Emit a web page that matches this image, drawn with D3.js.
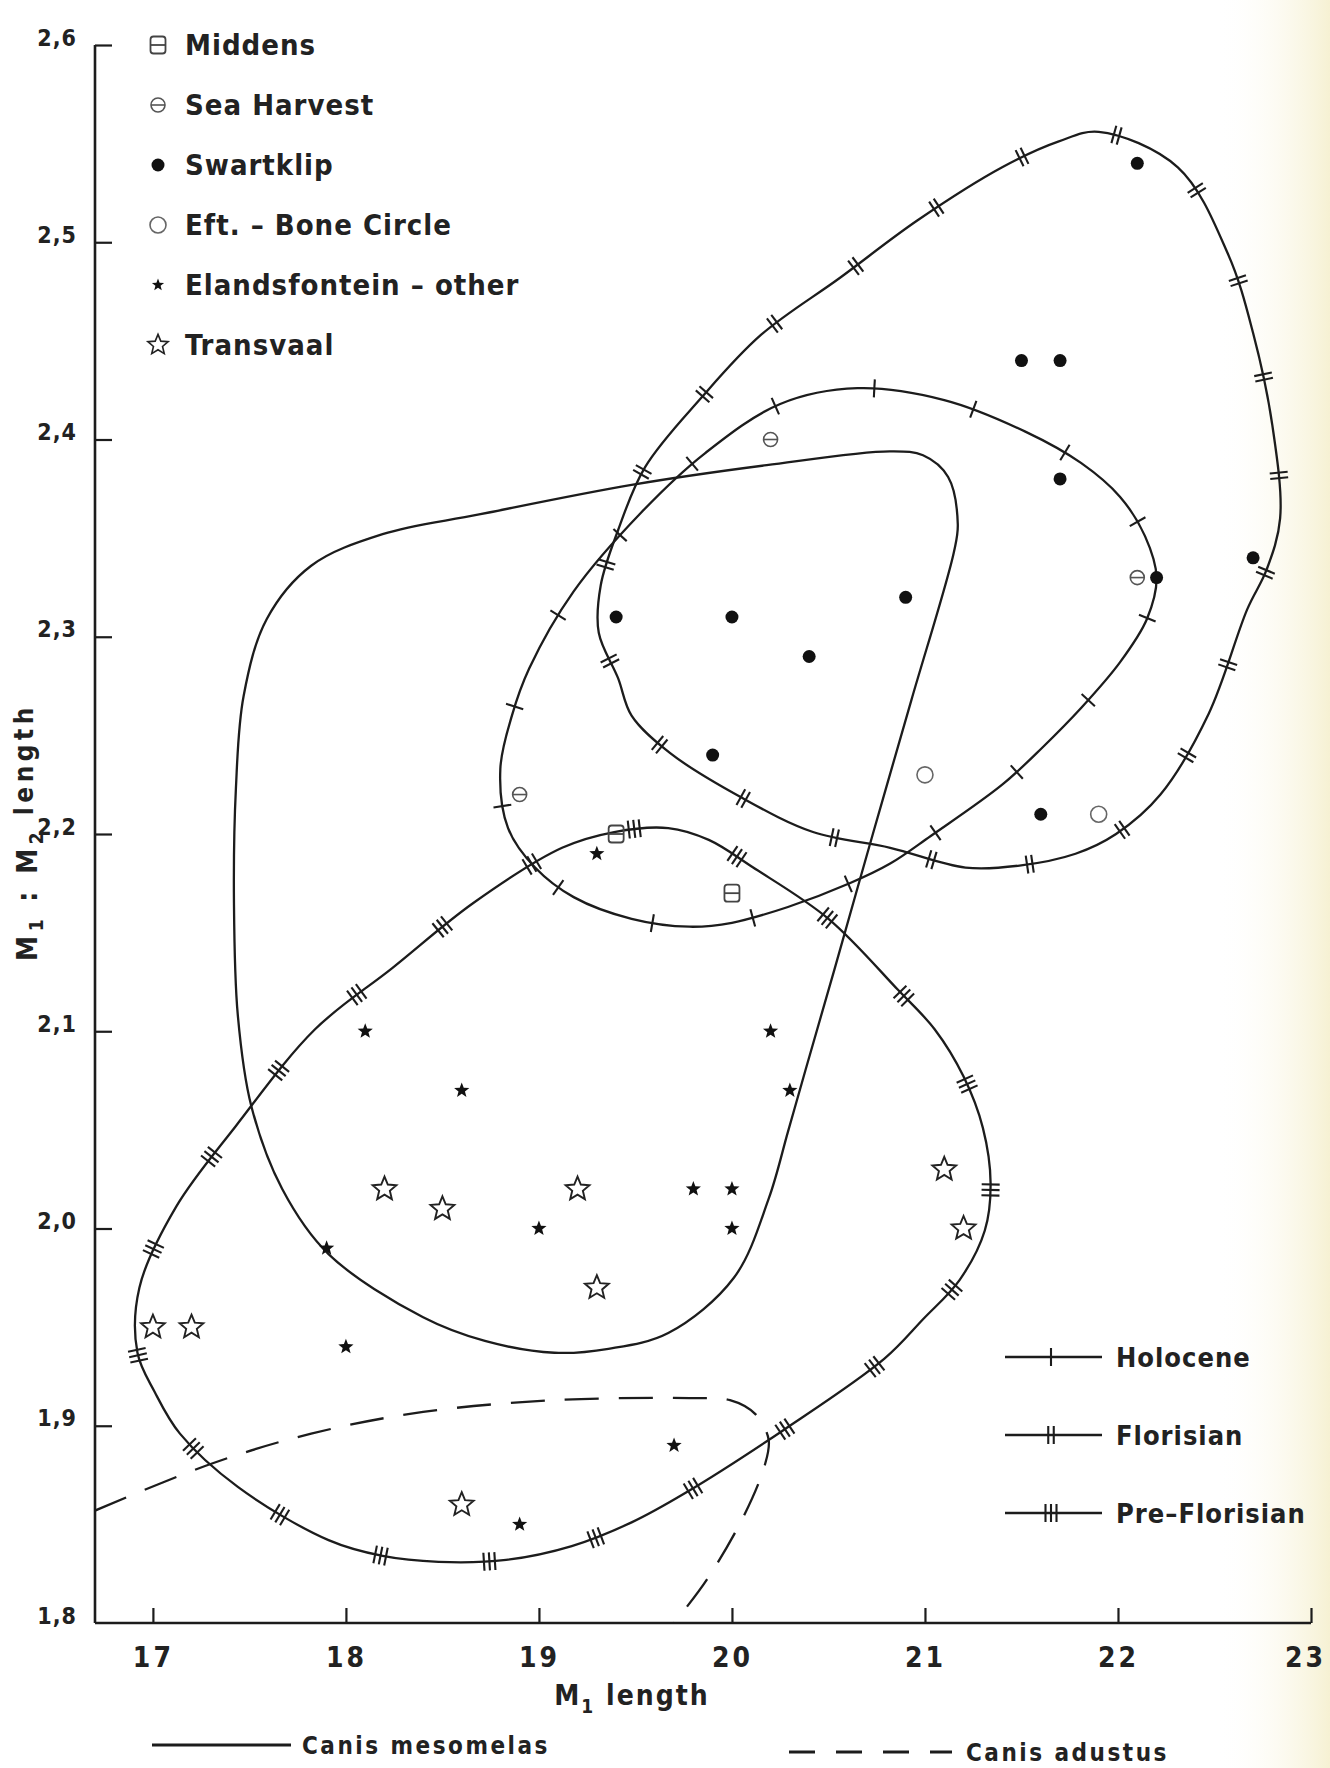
<!DOCTYPE html>
<html><head><meta charset="utf-8">
<script src="https://cdn.jsdelivr.net/npm/d3@7"></script>
<style>
html,body{margin:0;padding:0;background:#fff;}
svg{display:block;}
text{font-family:"DejaVu Sans Condensed","Liberation Sans Narrow","Arial Narrow",sans-serif;font-weight:bold;fill:#222;}
</style></head><body>
<svg id="chart" width="1330" height="1768"></svg>
<script>
// ---------- data ----------
const xTicks = [17,18,19,20,21,22,23];
const xTickLabels = ["17","18","19","20","21","22","23"];
const yTicks = [1.8,1.9,2.0,2.1,2.2,2.3,2.4,2.5,2.6];
const yTickLabels = ["1,8","1,9","2,0","2,1","2,2","2,3","2,4","2,5","2,6"];

const middens = [[19.4,2.20],[20.0,2.17]];
const seaHarvest = [[20.2,2.40],[18.9,2.22],[22.1,2.33]];
const swartklip = [[22.1,2.54],[21.5,2.44],[21.7,2.44],[21.7,2.38],[22.7,2.34],[22.2,2.33],
  [19.4,2.31],[20.0,2.31],[20.4,2.29],[20.9,2.32],[19.9,2.24],[21.6,2.21]];
const eftBoneCircle = [[21.0,2.23],[21.9,2.21]];
const elandsOther = [[19.3,2.19],[18.1,2.10],[18.6,2.07],[19.0,2.00],[19.8,2.02],[20.0,2.02],
  [20.0,2.00],[20.2,2.10],[20.3,2.07],[17.9,1.99],[18.0,1.94],[19.7,1.89],[18.9,1.85]];
const transvaal = [[18.2,2.02],[18.5,2.01],[19.2,2.02],[19.3,1.97],[21.1,2.03],[21.2,2.00],
  [17.0,1.95],[17.2,1.95],[18.6,1.86]];

// envelopes (M1 length, M1:M2)
const florisian = [[21.90,2.556],[22.31,2.538],[22.57,2.494],[22.70,2.454],[22.80,2.407],[22.84,2.360],
  [22.77,2.334],[22.67,2.314],[22.47,2.261],[22.22,2.220],[21.99,2.200],[21.78,2.190],[21.49,2.184],
  [21.21,2.183],[20.82,2.193],[20.42,2.201],[20.04,2.219],[19.68,2.241],[19.48,2.260],[19.41,2.279],
  [19.31,2.302],[19.32,2.326],[19.41,2.354],[19.55,2.386],[19.84,2.421],[20.15,2.453],[20.56,2.482],
  [20.96,2.511],[21.40,2.538],[21.69,2.551]];
const holocene = [[20.65,2.426],[21.10,2.420],[21.52,2.404],[21.81,2.388],[22.01,2.371],[22.14,2.351],
  [22.20,2.330],[22.15,2.309],[22.01,2.287],[21.81,2.264],[21.61,2.244],[21.40,2.225],[21.03,2.199],
  [20.82,2.185],[20.61,2.175],[20.29,2.163],[20.00,2.155],[19.78,2.153],[19.48,2.157],[19.18,2.168],
  [18.98,2.183],[18.84,2.203],[18.80,2.233],[18.86,2.260],[18.95,2.284],[19.18,2.323],[19.53,2.363],
  [19.86,2.393],[20.25,2.418]];
const preFlorisian = [[19.67,2.203],[19.88,2.197],[20.11,2.183],[20.50,2.157],[20.86,2.121],[21.05,2.101],
  [21.20,2.077],[21.30,2.051],[21.34,2.023],[21.31,1.999],[21.18,1.974],[20.99,1.954],[20.79,1.934],
  [20.27,1.898],[19.76,1.866],[19.48,1.851],[19.17,1.839],[18.83,1.832],[18.48,1.831],[18.19,1.834],
  [17.91,1.842],[17.44,1.869],[17.14,1.896],[17.01,1.917],[16.92,1.937],[16.93,1.970],[17.12,2.011],
  [17.43,2.052],[17.84,2.101],[18.24,2.132],[18.66,2.165],[19.12,2.193],[19.39,2.201]];
const mesomelas = [[18.69,2.362],[19.48,2.377],[20.18,2.387],[20.82,2.394],[20.99,2.392],[21.12,2.381],
  [21.17,2.357],[21.15,2.343],[20.93,2.268],[20.73,2.200],[20.53,2.131],[20.38,2.080],[20.29,2.049],
  [20.19,2.015],[20.01,1.975],[19.67,1.947],[19.36,1.939],[19.08,1.937],[18.72,1.943],[18.40,1.955],
  [17.91,1.987],[17.67,2.020],[17.51,2.062],[17.44,2.108],[17.42,2.165],[17.43,2.223],[17.47,2.270],
  [17.59,2.309],[17.82,2.336],[18.19,2.352]];
const adustus = [[16.70,1.857],[17.31,1.881],[17.82,1.896],[18.40,1.907],[19.09,1.913],[19.78,1.914],
  [19.99,1.913],[20.12,1.906],[20.19,1.893],[20.17,1.880],[20.06,1.854],[19.87,1.822],[19.70,1.800]];

const symbolLegend = ["Middens","Sea  Harvest","Swartklip","Eft. – Bone  Circle","Elandsfontein – other","Transvaal"];
const periodLegend = ["Holocene","Florisian","Pre–Florisian"];
const periodTicks = [1,2,3];
const speciesLegend = ["Canis  mesomelas","Canis  adustus"];

// ---------- drawing ----------
const svg = d3.select("#chart");
const W = 1330, H = 1768;
const INK = "#1c1c1c";

const defs = svg.append("defs");
const grad = defs.append("linearGradient").attr("id","paper").attr("x1","0").attr("x2","1").attr("y1","0").attr("y2","0");
grad.append("stop").attr("offset","0").attr("stop-color","#ffffff").attr("stop-opacity",0);
grad.append("stop").attr("offset","1").attr("stop-color","#f6f1d3").attr("stop-opacity",1);
svg.append("rect").attr("width",W).attr("height",H).attr("fill","#fff");
svg.append("rect").attr("x",1215).attr("y",0).attr("width",115).attr("height",H).attr("fill","url(#paper)");

const x = d3.scaleLinear().domain([16.7,23]).range([95,1311]);
const y = d3.scaleLinear().domain([1.8,2.6]).range([1623,45]);

defs.append("clipPath").attr("id","plot").append("rect")
  .attr("x",x(16.7)).attr("y",y(2.6)).attr("width",x(23)-x(16.7)).attr("height",y(1.8)-y(2.6));

// axes
const yAxis = d3.axisLeft(y).tickValues(yTicks).tickFormat((d,i)=>yTickLabels[i]).tickSize(-17).tickSizeOuter(0).tickPadding(18);
const gy = svg.append("g").attr("transform",`translate(${x(16.7)},0)`).call(yAxis);
gy.selectAll("text").attr("font-size",23).attr("dy","0.0em").style("letter-spacing","1px");
const xAxis = d3.axisBottom(x).tickValues(xTicks).tickFormat((d,i)=>xTickLabels[i]).tickSize(-15).tickSizeOuter(0).tickPadding(24);
const gx = svg.append("g").attr("transform",`translate(0,${y(1.8)})`).call(xAxis);
gx.selectAll("text").attr("font-size",28).style("letter-spacing","3px");
gx.selectAll(".tick").filter(d=>d===23).select("text").attr("x",-6);
[gx,gy].forEach(g=>{
  g.select(".domain").attr("stroke",INK).attr("stroke-width",2.6);
  g.selectAll(".tick line").attr("stroke",INK).attr("stroke-width",2.2);
  g.selectAll("text").attr("fill","#222").attr("font-family",null);
});
gy.selectAll(".tick").filter(d=>d===1.8).select("line").remove();
gy.select(".domain").attr("d",`M0,${y(2.6)}V${y(1.8)}`);
gx.select(".domain").attr("d",`M${x(16.7)},0H${x(23)}`);

// axis titles
const yt = svg.append("text").attr("transform",`translate(37,832) rotate(-90)`).attr("text-anchor","middle").attr("font-size",28).style("letter-spacing","4.5px");
yt.append("tspan").text("M");
yt.append("tspan").attr("font-size",19).attr("dy",6).text("1");
yt.append("tspan").attr("dy",-6).text(" : M");
yt.append("tspan").attr("font-size",19).attr("dy",6).text("2");
yt.append("tspan").attr("dy",-10).attr("font-size",26).text("  length");

const xt = svg.append("text").attr("x",632).attr("y",1705).attr("text-anchor","middle").attr("font-size",28).style("letter-spacing","2px");
xt.append("tspan").text("M");
xt.append("tspan").attr("font-size",19).attr("dy",8).text("1");
xt.append("tspan").attr("dy",-8).text("  length");

// envelopes
const closed = d3.line().x(d=>x(d[0])).y(d=>y(d[1])).curve(d3.curveCatmullRomClosed.alpha(0.5));
const open = d3.line().x(d=>x(d[0])).y(d=>y(d[1])).curve(d3.curveCatmullRom.alpha(0.5));
const plot = svg.append("g").attr("clip-path","url(#plot)");

function drawEnvelope(data, nTicks, mult){
  const p = plot.append("path").attr("d",closed(data)).attr("fill","none").attr("stroke",INK).attr("stroke-width",2.3);
  if(!nTicks) return;
  const node = p.node(), L = node.getTotalLength();
  for(let i=0;i<nTicks;i++){
    const s = (i+0.3)*L/nTicks;
    const a = node.getPointAtLength(s), b = node.getPointAtLength(Math.min(L,s+2));
    let tx=b.x-a.x, ty=b.y-a.y; const n=Math.hypot(tx,ty)||1; tx/=n; ty/=n;
    const nx=-ty, ny=tx;
    for(let j=0;j<mult;j++){
      const off=(j-(mult-1)/2)*5.5;
      const cx=a.x+tx*off, cy=a.y+ty*off;
      plot.append("line").attr("x1",cx-nx*9).attr("y1",cy-ny*9).attr("x2",cx+nx*9).attr("y2",cy+ny*9)
        .attr("stroke",INK).attr("stroke-width",2.1);
    }
  }
}
drawEnvelope(mesomelas,0,0);
drawEnvelope(florisian,22,2);
drawEnvelope(holocene,18,1);
drawEnvelope(preFlorisian,22,3);
plot.append("path").attr("d",open(adustus)).attr("fill","none").attr("stroke",INK).attr("stroke-width",2.3)
  .attr("stroke-dasharray","34 20");

// symbols
function starPath(R, r){
  let s="";
  for(let i=0;i<10;i++){
    const ang=-Math.PI/2+i*Math.PI/5, rr=i%2?r:R;
    s+=(i?"L":"M")+(rr*Math.cos(ang)).toFixed(2)+","+(rr*Math.sin(ang)).toFixed(2);
  }
  return s+"Z";
}
const drawers = {
  middens: g=>{ g.append("rect").attr("x",-7.5).attr("y",-8.5).attr("width",15).attr("height",17).attr("rx",3)
      .attr("fill","none").attr("stroke","#444").attr("stroke-width",1.8);
    g.append("line").attr("x1",-7.5).attr("x2",7.5).attr("y1",0).attr("y2",0).attr("stroke","#444").attr("stroke-width",1.8); },
  sea: g=>{ g.append("circle").attr("r",7).attr("fill","none").attr("stroke","#555").attr("stroke-width",1.6);
    g.append("line").attr("x1",-7).attr("x2",7).attr("stroke","#555").attr("stroke-width",1.6); },
  swart: g=>{ g.append("circle").attr("r",6.5).attr("fill","#111"); },
  eft: g=>{ g.append("circle").attr("r",8).attr("fill","none").attr("stroke","#666").attr("stroke-width",1.6); },
  elands: g=>{ g.append("path").attr("d",starPath(8,3.4)).attr("fill","#111"); },
  trans: g=>{ g.append("path").attr("d",starPath(12.5,5.6)).attr("fill","none").attr("stroke","#222").attr("stroke-width",1.9); }
};
function plotPoints(data, key){
  svg.append("g").selectAll("g").data(data).join("g")
    .attr("transform",d=>`translate(${x(d[0])},${y(d[1])})`)
    .each(function(){ drawers[key](d3.select(this)); });
}
plotPoints(middens,"middens");
plotPoints(seaHarvest,"sea");
plotPoints(swartklip,"swart");
plotPoints(eftBoneCircle,"eft");
plotPoints(elandsOther,"elands");
plotPoints(transvaal,"trans");

// symbol legend (top-left)
const legKeys = ["middens","sea","swart","eft","elands","trans"];
const lg = svg.append("g");
symbolLegend.forEach((t,i)=>{
  const yy = 45 + i*60;
  const g = lg.append("g").attr("transform",`translate(158,${yy})`);
  drawers[legKeys[i]](g);
  if(legKeys[i]==="trans") g.attr("transform",`translate(158,${yy}) scale(0.85)`);
  if(legKeys[i]==="elands") g.attr("transform",`translate(158,${yy}) scale(0.8)`);
  lg.append("text").attr("x",185).attr("y",yy).attr("dy","0.36em").attr("font-size",29).style("letter-spacing","1px").text(t);
});

// period legend (bottom-right)
const pg = svg.append("g");
periodLegend.forEach((t,i)=>{
  const yy = 1357 + i*78;
  pg.append("line").attr("x1",1005).attr("x2",1102).attr("y1",yy).attr("y2",yy).attr("stroke",INK).attr("stroke-width",2.3);
  const m = periodTicks[i];
  for(let j=0;j<m;j++){
    const cx = 1051 + (j-(m-1)/2)*5.5;
    pg.append("line").attr("x1",cx).attr("x2",cx).attr("y1",yy-9).attr("y2",yy+9).attr("stroke",INK).attr("stroke-width",2.1);
  }
  pg.append("text").attr("x",1116).attr("y",yy).attr("dy","0.36em").attr("font-size",27).style("letter-spacing","1px").text(t);
});

// species legend (bottom)
const sg = svg.append("g");
sg.append("line").attr("x1",152).attr("x2",291).attr("y1",1745).attr("y2",1745).attr("stroke",INK).attr("stroke-width",3);
sg.append("text").attr("x",302).attr("y",1745).attr("dy","0.36em").attr("font-size",24).style("letter-spacing","2.5px").text(speciesLegend[0]);
sg.append("line").attr("x1",789).attr("x2",952).attr("y1",1752).attr("y2",1752).attr("stroke",INK).attr("stroke-width",3).attr("stroke-dasharray","26 21");
sg.append("text").attr("x",966).attr("y",1752).attr("dy","0.36em").attr("font-size",24).style("letter-spacing","2.5px").text(speciesLegend[1]);
</script>
</body></html>
